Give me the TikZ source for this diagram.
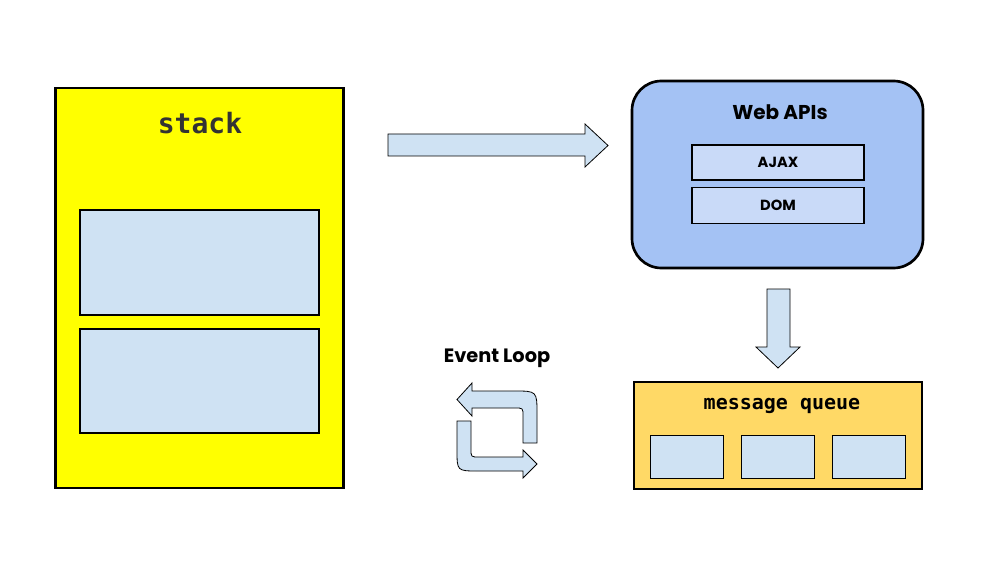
\documentclass[tikz,border=0pt]{standalone}
\usepackage{fontspec}
\setmainfont{Poppins}
\setmonofont{DejaVu Sans Mono}
\usetikzlibrary{positioning,shadows}

\definecolor{stackyellow}{HTML}{FFFF00}
\definecolor{frameblue}{HTML}{CFE2F3}
\definecolor{apiblue}{HTML}{A4C2F4}
\definecolor{apiitem}{HTML}{C9DAF8}
\definecolor{queuegold}{HTML}{FFD966}
\definecolor{labelgray}{HTML}{333333}

\tikzset{
  bigbox/.style={draw=black, line width=2pt, inner sep=0pt,
    drop shadow={shadow xshift=0.8pt, shadow yshift=-0.8pt, opacity=0.25}},
  framebox/.style={draw=black, line width=0.8pt, fill=frameblue,
    inner sep=0pt, minimum width=179.25pt,
    drop shadow={shadow xshift=0.8pt, shadow yshift=-1pt, opacity=0.25}},
  apibox/.style={draw=black, line width=0.8pt, fill=apiitem, inner sep=0pt,
    minimum width=129pt, font=\bfseries\fontsize{11}{13}\selectfont},
  msgbox/.style={draw=black, line width=0.6pt, fill=frameblue, inner sep=0pt,
    minimum width=54.75pt, minimum height=32.25pt},
  blockarrow/.style={draw=black, line width=0.6pt, fill=frameblue},
}

\begin{document}
\begin{tikzpicture}[x=0.75pt, y=-0.75pt]
  \useasboundingbox (0,0) rectangle (985,581);

  %----- stack -----
  \node[bigbox, fill=stackyellow, minimum width=216pt, minimum height=300pt]
    (stack) at (199.5,288) {};
  \node[text=labelgray, font=\ttfamily\bfseries\fontsize{21}{24}\selectfont]
    (stacktitle) at (200,123) {stack};
  \node[framebox, minimum height=78.75pt] (frameA) at (199.5,262.5) {};
  \node[framebox, minimum height=78pt]    (frameB) at (199.5,381) {};

  %----- Web APIs -----
  \node[bigbox, fill=apiblue, rounded corners=22pt,
        minimum width=218.25pt, minimum height=140.25pt] (webapi) at (777.5,174.5) {};
  \node[font=\bfseries\fontsize{15}{18}\selectfont] (webtitle) at (780,112) {Web APIs};
  \node[apibox, minimum height=26.25pt] (ajax) at (778,162.5) {AJAX};
  \node[apibox, minimum height=27pt, below=4.5pt of ajax] (dom) {DOM};

  %----- message queue -----
  \node[bigbox, fill=queuegold, minimum width=216pt, minimum height=80.25pt]
    (queue) at (778,435.5) {};
  \node[font=\ttfamily\bfseries\fontsize{15}{18}\selectfont] (queuetitle) at (782,406) {message queue};
  \foreach \i/\x in {1/686.5, 2/778, 3/869}
    \node[msgbox] (msg\i) at (\x,456.5) {};

  %----- block arrows -----
  \draw[blockarrow] (388,134) -- (585,134) -- (585,124) -- (608,145.5)
    -- (585,167) -- (585,156) -- (388,156) -- cycle;
  \draw[blockarrow] (767,289) -- (790,289) -- (790,347) -- (800,347)
    -- (778,368) -- (756,347) -- (767,347) -- cycle;

  %----- event loop -----
  \node[font=\bfseries\fontsize{14.5}{17}\selectfont] (looptitle) at (497,358) {Event Loop};
  \draw[blockarrow] (537,443) -- (537,414) .. controls (537,391) .. (514,391)
    -- (472,391) -- (472,383) -- (457,399.5) -- (472,416) -- (472,408)
    -- (515,408) .. controls (523,408) .. (523,416) -- (523,443) -- cycle;
  \draw[blockarrow] (457,421) -- (457,450) .. controls (457,471) .. (478,471)
    -- (523,471) -- (523,478) -- (537,464) -- (523,450) -- (523,457)
    -- (479,457) .. controls (471,457) .. (471,449) -- (471,421) -- cycle;
\end{tikzpicture}
\end{document}
